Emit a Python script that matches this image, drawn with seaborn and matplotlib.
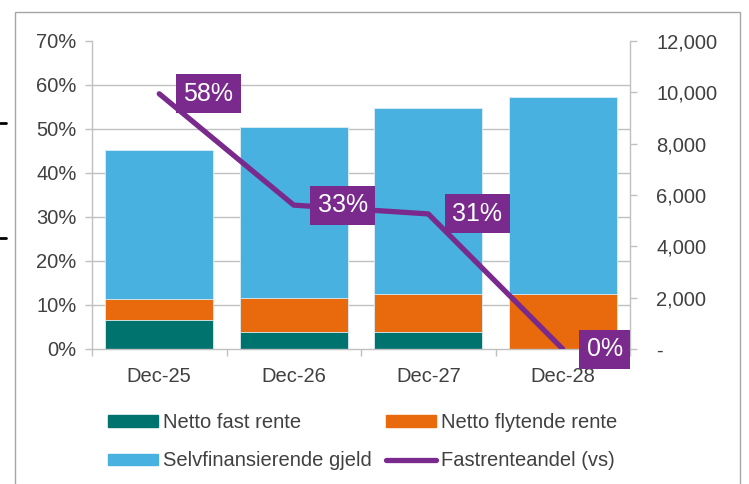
import numpy as np
import pandas as pd
import matplotlib
matplotlib.use("Agg")
import matplotlib.pyplot as plt
import matplotlib.patches as mpatches
from matplotlib.lines import Line2D
from matplotlib.ticker import FuncFormatter
import seaborn as sns

# ── Data ────────────────────────────────────────────────
dates = ["Dec-25", "Dec-26", "Dec-27", "Dec-28"]
netto_fast = [1135, 655, 660, 0]
netto_flytende = [820, 1340, 1470, 2130]
selvfinansierende = [5795, 6645, 7250, 7670]
fastrenteandel = [0.58, 0.327, 0.307, 0.0]

pct_ticks = [0.0, 0.1, 0.2, 0.3, 0.4, 0.5, 0.6, 0.7]
amount_ticks = [0, 2000, 4000, 6000, 8000, 10000, 12000]

COLORS = {
    "fast": "#00736F",
    "flyt": "#E86A0C",
    "selv": "#48B1DF",
    "line": "#7A2A8C",
    "grid": "#C0C0C0",
    "text": "#404040",
}
FS = 14.5

sns.set_theme(style="white")
plt.rcParams["font.family"] = ["Liberation Sans", "DejaVu Sans"]

df = pd.DataFrame({
    "dato": dates,
    "fast": netto_fast,
    "flyt": netto_flytende,
    "selv": selvfinansierende,
})
df["lav"] = df["fast"] + df["flyt"]
df["total"] = df["lav"] + df["selv"]

fig = plt.figure(figsize=(7.49, 4.84), dpi=100)
ax = fig.add_axes([92 / 749, 1 - 349 / 484, (630 - 92) / 749, (349 - 41) / 484])

# stacked bars drawn as overlapping cumulative totals
for col, key in [("total", "selv"), ("lav", "flyt"), ("fast", "fast")]:
    sns.barplot(data=df, x="dato", y=col, color=COLORS[key], width=0.8,
                edgecolor="#DDEEF7", linewidth=0.6, saturation=1, ax=ax)

ax.set_xlabel("")
ax.set_ylabel("")
ax.set_ylim(0, 12000)
ax.set_xlim(-0.5, len(dates) - 0.5)

# line on the percent axis (left)
ax2 = ax.twinx()
xpos = np.arange(len(dates))
sns.lineplot(x=xpos, y=fastrenteandel, color=COLORS["line"], linewidth=3.8,
             solid_capstyle="round", solid_joinstyle="round", ax=ax2)
ax2.set_ylim(0, 0.7)
ax2.set_xlim(-0.5, len(dates) - 0.5)

# swap sides: bars' amount scale on the right, percent scale on the left
ax.yaxis.tick_right()
ax.yaxis.set_label_position("right")
ax2.yaxis.tick_left()
ax2.yaxis.set_label_position("left")

ax.set_yticks(amount_ticks)
ax.yaxis.set_major_formatter(FuncFormatter(lambda v, p: "-" if v == 0 else f"{v:,.0f}"))
# gridlines follow the percent axis
ax.set_yticks([t * 12000 / 0.7 for t in pct_ticks], minor=True)
ax.grid(which="minor", axis="y", color=COLORS["grid"], linewidth=1.0)
ax.grid(which="major", axis="y", visible=False)
ax.set_axisbelow(True)
ax.tick_params(axis="y", which="minor", length=0)
ax.tick_params(axis="y", which="major", direction="out", length=5, width=1,
               left=False, right=True, labelleft=False, labelright=True,
               color=COLORS["grid"], labelcolor=COLORS["text"], labelsize=FS, pad=14)

# category labels centered, tick marks on the boundaries
ax.set_xticks(np.arange(-0.5, len(dates)), labels=[""] * (len(dates) + 1))
ax.set_xticks(np.arange(len(dates)), labels=dates, minor=True)
ax.tick_params(axis="x", which="major", direction="out", length=5, width=1,
               color=COLORS["grid"], bottom=True)
ax.tick_params(axis="x", which="minor", length=0, labelsize=FS,
               labelcolor=COLORS["text"], pad=13)

for side in ["top", "left"]:
    ax.spines[side].set_visible(False)
for side in ["right", "bottom"]:
    ax.spines[side].set_color(COLORS["grid"])
    ax.spines[side].set_linewidth(1)

ax2.set_yticks(pct_ticks)
ax2.yaxis.set_major_formatter(FuncFormatter(lambda v, p: f"{v:.0%}"))
ax2.tick_params(axis="y", direction="out", length=5, width=1, left=True, right=False,
                labelleft=True, labelright=False,
                color=COLORS["grid"], labelcolor=COLORS["text"], labelsize=FS, pad=6)
for side in ["top", "right", "bottom"]:
    ax2.spines[side].set_visible(False)
ax2.spines["left"].set_color(COLORS["grid"])
ax2.spines["left"].set_linewidth(1)

for i, v in enumerate(fastrenteandel):
    ax2.annotate(f"{v:.0%}", (i, v), xytext=(24, 0), textcoords="offset pixels",
                 ha="left", va="center", color="white", fontsize=18,
                 bbox=dict(boxstyle="square,pad=0.3", fc=COLORS["line"], ec="none"),
                 annotation_clip=False, zorder=5)

# legend (two columns, filled column-wise)
handles = [
    mpatches.Patch(color=COLORS["fast"], label="Netto fast rente"),
    mpatches.Patch(color=COLORS["selv"], label="Selvfinansierende gjeld"),
    mpatches.Patch(color=COLORS["flyt"], label="Netto flytende rente"),
    Line2D([0], [0], color=COLORS["line"], linewidth=3.8, solid_capstyle="round",
           label="Fastrenteandel (vs)"),
]
leg = fig.legend(handles=handles, ncol=2, loc="center", bbox_to_anchor=(0.484, 0.087),
                 frameon=False, fontsize=FS, handlelength=2.5, handleheight=0.5,
                 handletextpad=0.25, columnspacing=0.7, labelspacing=0.95,
                 labelcolor=COLORS["text"])

# outer chart frame and stray marks from the source picture
fig.add_artist(mpatches.Rectangle((15 / 749, -0.05), (740 - 15) / 749, 1.05 - 12 / 484,
                                  transform=fig.transFigure, fill=False,
                                  ec="#A6A6A6", lw=1, clip_on=False))
for yy in [123, 238]:
    fig.add_artist(Line2D([0, 6 / 749], [1 - yy / 484] * 2, color="black", lw=2,
                          transform=fig.transFigure))

fig.savefig("out.png", dpi=100)
plt.close(fig)
